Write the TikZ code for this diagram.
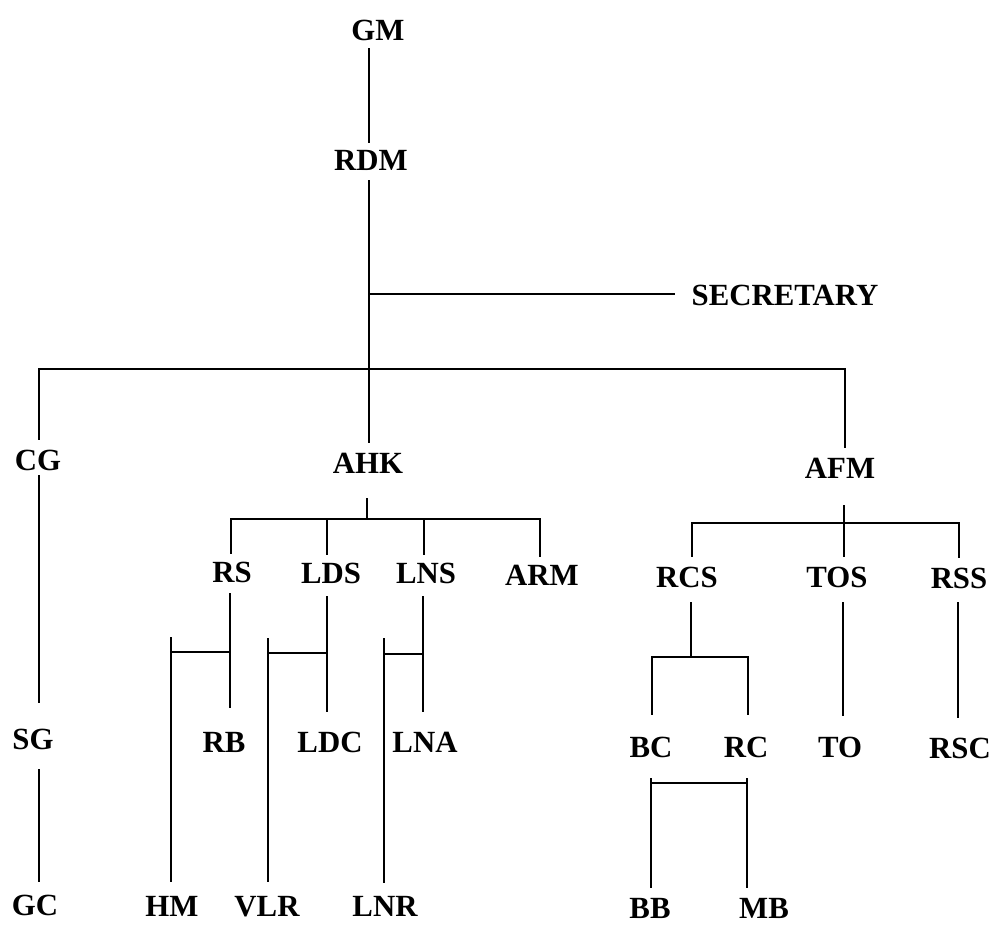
\documentclass[tikz,border=0pt]{standalone}
\usepackage{fontspec}
\setmainfont{Liberation Serif}
\begin{document}
\begin{tikzpicture}[x=1pt,y=-1pt,
  lbl/.style={font=\fontsize{30.8}{34}\selectfont\bfseries, inner sep=0pt, outer sep=0pt,
              text height=20.4pt, text depth=0pt, anchor=south},
  ln/.style={line width=1.7pt, line cap=butt, line join=miter}]
\useasboundingbox (0,0) rectangle (994,926);
\fill[white] (0,0) rectangle (994,926);

% ---- labels (x = centre, y = baseline) ----
\node[lbl] (GM)  at (378,40)  {GM};
\node[lbl] (RDM) at (371,170) {RDM};
\node[lbl] (SEC) at (785,305) {SECRETARY};
\node[lbl] (CG)  at (38,470)  {CG};
\node[lbl] (AHK) at (368,473) {AHK};
\node[lbl] (AFM) at (840,478) {AFM};
\node[lbl] (RS)  at (232,582) {RS};
\node[lbl] (LDS) at (331,583) {LDS};
\node[lbl] (LNS) at (426,583) {LNS};
\node[lbl] (ARM) at (542,585) {ARM};
\node[lbl] (RCS) at (687,587) {RCS};
\node[lbl] (TOS) at (837,587) {TOS};
\node[lbl] (RSS) at (959,588) {RSS};
\node[lbl] (SG)  at (33,749)  {SG};
\node[lbl] (RB)  at (224,752) {RB};
\node[lbl] (LDC) at (330,752) {LDC};
\node[lbl] (LNA) at (425,752) {LNA};
\node[lbl] (BC)  at (651,757) {BC};
\node[lbl] (RC)  at (746,757) {RC};
\node[lbl] (TO)  at (840,757) {TO};
\node[lbl] (RSC) at (960,758) {RSC};
\node[lbl] (GC)  at (35,915)  {GC};
\node[lbl] (HM)  at (172,916) {HM};
\node[lbl] (VLR) at (267,916) {VLR};
\node[lbl] (LNR) at (385,916) {LNR};
\node[lbl] (BB)  at (650,918) {BB};
\node[lbl] (MB)  at (764,918) {MB};

% ---- junction coordinates ----
\coordinate (sp)   at (369,0);
\coordinate (jsec) at (369,294);
\coordinate (jL)   at (39,369);
\coordinate (jR)   at (845,369);
\coordinate (a0) at (367,519);
\coordinate (a1) at (231,519);
\coordinate (a2) at (327,519);
\coordinate (a3) at (424,519);
\coordinate (a4) at (540,519);
\coordinate (h1) at (230,652);
\coordinate (h2) at (171,652);
\coordinate (v1) at (327,653);
\coordinate (v2) at (268,653);
\coordinate (n1) at (423,654);
\coordinate (n2) at (384,654);
\coordinate (f0) at (844,523);
\coordinate (f1) at (692,523);
\coordinate (f3) at (959,523);
\coordinate (c0) at (691,657);
\coordinate (c1) at (652,657);
\coordinate (c2) at (748,657);
\coordinate (t0) at (843,0);
\coordinate (r0) at (958,0);
\coordinate (b1) at (651,783);
\coordinate (b2) at (747,783);

% ---- top spine ----
\draw[ln] ([yshift=-8pt]GM.south -| sp) -- ([yshift=7pt]RDM.north -| sp);
\draw[ln] ([yshift=-10pt]RDM.south -| sp) -- ([yshift=10pt]AHK.north -| sp);
\draw[ln] (jsec) -- ([xshift=-17pt]SEC.west |- jsec);
\draw[ln] ([yshift=10pt]CG.north -| jL) -- (jL) -- (jR) -- ([yshift=10pt]AFM.north -| jR);

% ---- CG chain ----
\draw[ln] ([yshift=-5pt]CG.south -| jL) -- ([yshift=26pt]SG.north -| jL);
\draw[ln] ([yshift=-20pt]SG.south -| jL) -- ([yshift=13pt]GC.north -| jL);

% ---- AHK group ----
\draw[ln] ([yshift=-25pt]AHK.south -| a0) -- (a0);
\draw[ln] ([yshift=8pt]RS.north -| a1) -- (a1) -- (a4) -- ([yshift=8pt]ARM.north -| a4);
\draw[ln] (a2) -- ([yshift=8pt]LDS.north -| a2);
\draw[ln] (a3) -- ([yshift=8pt]LNS.north -| a3);

\draw[ln] ([yshift=-11pt]RS.south -| h1) -- ([yshift=24pt]RB.north -| h1);
\draw[ln] (h1) -- (h2);
\draw[ln] ([yshift=15pt]h2) -- ([yshift=14pt]HM.north -| h2);

\draw[ln] ([yshift=-13pt]LDS.south -| v1) -- ([yshift=20pt]LDC.north -| v1);
\draw[ln] (v1) -- (v2);
\draw[ln] ([yshift=15pt]v2) -- ([yshift=14pt]VLR.north -| v2);

\draw[ln] ([yshift=-13pt]LNS.south -| n1) -- ([yshift=20pt]LNA.north -| n1);
\draw[ln] (n1) -- (n2);
\draw[ln] ([yshift=16pt]n2) -- ([yshift=13pt]LNR.north -| n2);

% ---- AFM group ----
\draw[ln] ([yshift=-27pt]AFM.south -| f0) -- (f0);
\draw[ln] ([yshift=10pt]RCS.north -| f1) -- (f1) -- (f3) -- ([yshift=10pt]RSS.north -| f3);
\draw[ln] (f0) -- ([yshift=10pt]TOS.north -| f0);

\draw[ln] ([yshift=-15pt]RCS.south -| c0) -- (c0);
\draw[ln] ([yshift=22pt]BC.north -| c1) -- (c1) -- (c2) -- ([yshift=22pt]RC.north -| c2);
\draw[ln] ([yshift=-15pt]TOS.south -| t0) -- ([yshift=21pt]TO.north -| t0);
\draw[ln] ([yshift=-14pt]RSS.south -| r0) -- ([yshift=20pt]RSC.north -| r0);

\draw[ln] (b1) -- (b2);
\draw[ln] ([yshift=5pt]b1) -- ([yshift=10pt]BB.north -| b1);
\draw[ln] ([yshift=5pt]b2) -- ([yshift=10pt]MB.north -| b2);
\end{tikzpicture}
\end{document}
